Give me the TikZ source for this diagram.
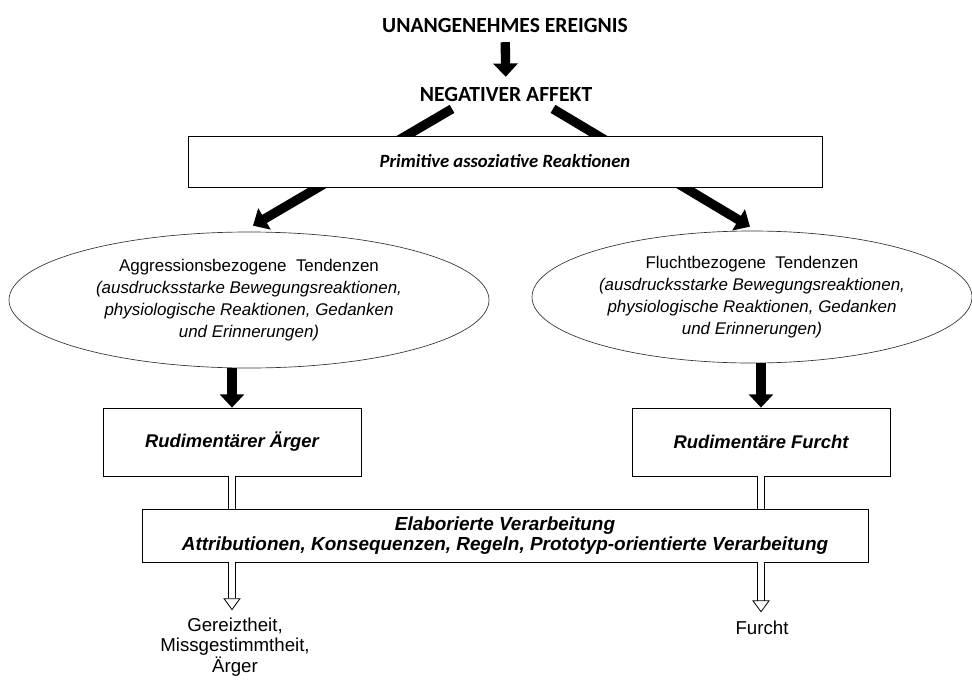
\documentclass[tikz,border=0pt]{standalone}
\usepackage{fontspec}
\setmainfont{Liberation Sans}
\newfontfamily\calibri{Carlito}
\usetikzlibrary{positioning}
\usetikzlibrary{calc}
\usetikzlibrary{shapes}
\usetikzlibrary{arrows.meta}
\tikzset{>=Latex}
\tikzset{headline/.style={font=\calibri\bfseries\fontsize{16.2}{19}\selectfont}}
\tikzset{stagebox/.style={rectangle, draw, fill=white, line width=0.6pt, align=center, font=\bfseries\itshape\fontsize{#1}{14.5}\selectfont}}
\tikzset{tendency/.style={ellipse, draw=black!80, line width=0.5pt, inner sep=0pt, align=center, font=\fontsize{12.7}{16.5}\selectfont}}
\tikzset{outcome/.style={align=center, font=\fontsize{14}{15.5}\selectfont}}
\tikzset{bigarrow/.style={line width=7pt, -{Triangle[length=10pt,width=18pt]}}}
\tikzset{hollowarrow/.style={double, double distance=4.6pt, line width=0.6pt}}
\tikzset{hollowhead/.style={hollowarrow, -{Triangle[open,length=9pt,width=13pt,line width=0.6pt]}}}

\begin{document}
\begin{tikzpicture}[x=0.75pt, y=-0.75pt]

    \useasboundingbox (0,0) rectangle (972,679);

    % Trigger and affect.
    \node [headline] (event) at (505,25) {UNANGENEHMES EREIGNIS};
    \node [headline] (negaff) at (506,94) {NEGATIVER AFFEKT};
    \draw [bigarrow, shorten <=4pt, shorten >=4pt] (event) -- (negaff);

    % Tendencies.
    \node [tendency, minimum width=360pt, minimum height=102pt] (aggr) at (249,300)
        {Aggressionsbezogene\ \ Tendenzen\\ \itshape (ausdrucksstarke Bewegungsreaktionen,\\
        \itshape physiologische Reaktionen, Gedanken\\ \itshape und Erinnerungen)};
    \node [tendency, minimum width=330pt, minimum height=99pt] (flight) at (752,297)
        {Fluchtbezogene\ \ Tendenzen\\ \itshape (ausdrucksstarke Bewegungsreaktionen,\\
        \itshape physiologische Reaktionen, Gedanken\\ \itshape und Erinnerungen)};

    % Lines from affect to tendencies, behind the box.
    \coordinate (aff-l) at ($(negaff.south)+(-54,3)$);
    \coordinate (aff-r) at ($(negaff.south)+(47,3)$);
    \draw [bigarrow] (aff-l) -- ($(aggr.north)+(4,-6)$);
    \draw [bigarrow] (aff-r) -- ($(flight.north)+(-2,-4)$);

    \node [stagebox=14, font=\calibri\bfseries\itshape\fontsize{14}{16}\selectfont,
        minimum width=475.5pt, minimum height=38.25pt] (prim) at (505,161.5) {Primitive assoziative Reaktionen};

    % Rudimentary emotions.
    \node [stagebox=13.8, minimum width=193.5pt, minimum height=51pt] (anger) at (232,442) {Rudimentärer Ärger};
    \node [stagebox=13.8, minimum width=193.5pt, minimum height=51pt] (fear) at (761,442) {Rudimentäre Furcht};
    \draw [bigarrow] (anger.north |- aggr.south) -- (anger.north);
    \draw [bigarrow] (fear.north |- flight.south) -- (fear.north);

    % Elaborated processing.
    \node [stagebox=14.2, minimum width=544.5pt, minimum height=39.75pt] (elab) at (505,535.5)
        {Elaborierte Verarbeitung\\Attributionen, Konsequenzen, Regeln, Prototyp-orientierte Verarbeitung};
    \draw [hollowarrow] (anger.south) -- (anger.south |- elab.north);
    \draw [hollowarrow] (fear.south) -- (fear.south |- elab.north);

    % Results.
    \node [outcome] (irritation) at (235,647) {Gereiztheit,\\Missgestimmtheit,\\Ärger};
    \node [outcome] (fright) at (762,628) {Furcht};
    \draw [hollowhead, shorten >=2pt] (anger.south |- elab.south) -- (anger.south |- irritation.north);
    \draw [hollowhead, shorten >=3pt] (fear.south |- elab.south) -- (fear.south |- fright.north);

\end{tikzpicture}
\end{document}
